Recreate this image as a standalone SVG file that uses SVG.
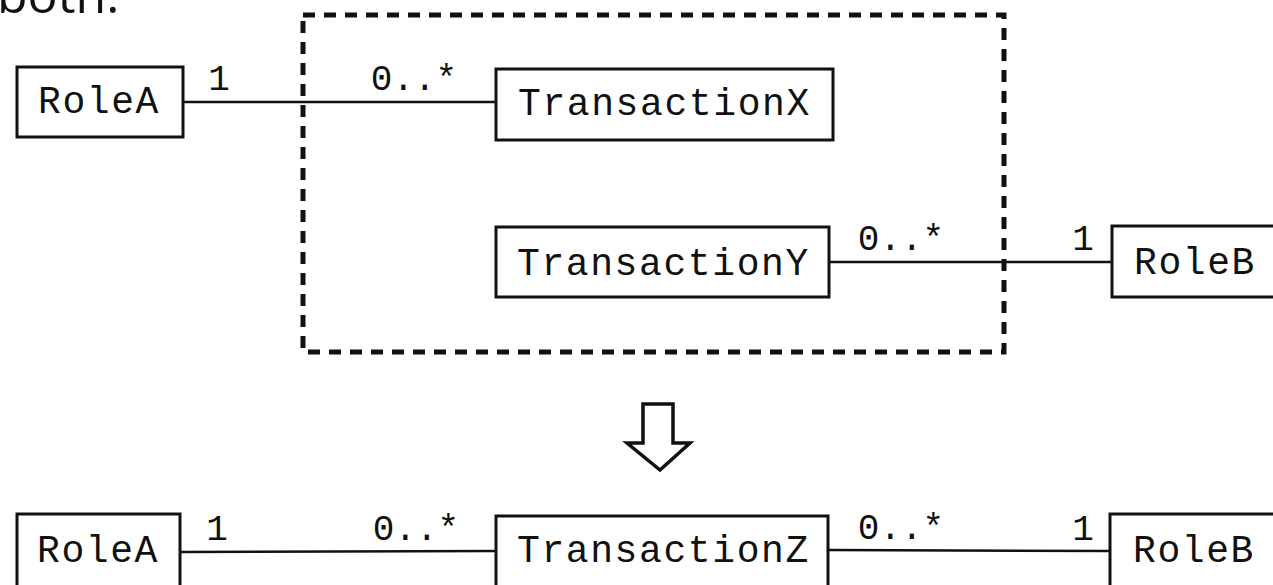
<svg xmlns="http://www.w3.org/2000/svg" width="1273" height="585" viewBox="0 0 1273 585">
<style>
.bg{fill:#ffffff}
.box{fill:#ffffff;stroke:#111;stroke-width:3}
.lbl{font-family:"Liberation Mono","DejaVu Sans Mono",monospace;font-size:38px;letter-spacing:1.6px;fill:#111}
.mul{font-family:"Liberation Mono","DejaVu Sans Mono",monospace;font-size:36px;fill:#111;text-anchor:middle}
.conn{stroke:#111;stroke-width:2.5;fill:none}
.dash{fill:none;stroke:#111;stroke-width:5;stroke-dasharray:12 9}
.head{font-family:"Open Sans","Noto Sans",sans-serif;font-size:50px;fill:#111}
</style>
<rect class="bg" x="0" y="0" width="1273" height="585"/>
<text class="head" x="-3" y="13">both.</text>
<rect id="group-boundary" class="dash" x="303" y="15" width="701" height="337"/>
<g id="connectors">
  <line class="conn" x1="183" y1="102" x2="496" y2="102"/>
  <line class="conn" x1="829" y1="262" x2="1112" y2="262"/>
  <line class="conn" x1="180" y1="552" x2="496" y2="551"/>
  <line class="conn" x1="828" y1="550" x2="1110" y2="551"/>
  <text class="mul" x="219" y="90">1</text>
  <text class="mul" x="414" y="90">0..*</text>
  <text class="mul" x="901" y="250">0..*</text>
  <text class="mul" x="1083" y="250">1</text>
  <text class="mul" x="217" y="540">1</text>
  <text class="mul" x="416" y="540">0..*</text>
  <text class="mul" x="901" y="539">0..*</text>
  <text class="mul" x="1083" y="540">1</text>
</g>
<g id="roleA-top">
  <rect class="box" x="17" y="67" width="166" height="70"/>
  <text class="lbl" x="38" y="113">RoleA</text>
</g>
<g id="transactionX">
  <rect class="box" x="496" y="69" width="337" height="71"/>
  <text class="lbl" x="518" y="115">TransactionX</text>
</g>
<g id="transactionY">
  <rect class="box" x="496" y="227" width="333" height="70"/>
  <text class="lbl" x="517" y="275">TransactionY</text>
</g>
<g id="roleB-top">
  <rect class="box" x="1112" y="226" width="175" height="71"/>
  <text class="lbl" x="1134" y="274">RoleB</text>
</g>
<g id="transform-arrow">
  <polygon points="643,404 673,404 673,443 690,443 660,470 627,443 643,443" fill="#fff" stroke="#111" stroke-width="3.5" stroke-linejoin="miter"/>
</g>
<g id="roleA-bottom">
  <rect class="box" x="17" y="514" width="163" height="90"/>
  <text class="lbl" x="37" y="562">RoleA</text>
</g>
<g id="transactionZ">
  <rect class="box" x="496" y="516" width="332" height="90"/>
  <text class="lbl" x="517" y="562">TransactionZ</text>
</g>
<g id="roleB-bottom">
  <rect class="box" x="1110" y="514" width="180" height="90"/>
  <text class="lbl" x="1133" y="562">RoleB</text>
</g>
</svg>
